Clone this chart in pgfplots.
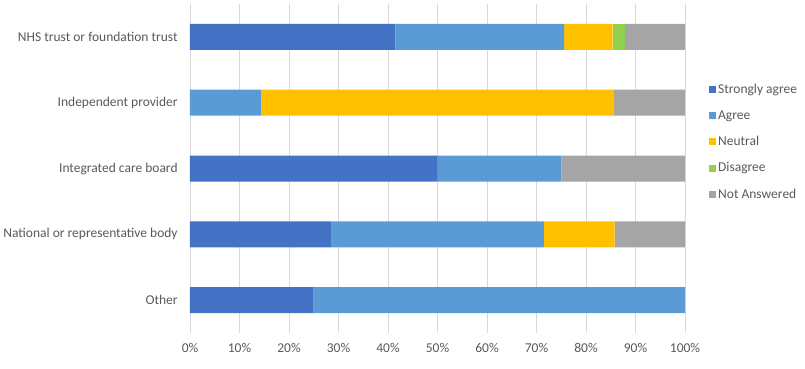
\documentclass[border=0pt]{standalone}
\usepackage{fontspec}
\setmainfont{Carlito}
\usepackage{pgfplots}
\pgfplotsset{compat=1.18}
\definecolor{csa}{HTML}{4472C4}
\definecolor{cag}{HTML}{5B9BD5}
\definecolor{cne}{HTML}{FFC000}
\definecolor{cdi}{HTML}{92D050}
\definecolor{cna}{HTML}{A5A5A5}
\definecolor{txtgray}{HTML}{595959}
\definecolor{gridgray}{HTML}{D9D9D9}
\begin{document}
\fontsize{13.5bp}{15bp}\selectfont
\begin{tikzpicture}
\useasboundingbox (-190bp,-36bp) rectangle (615bp,333bp);
\begin{axis}[
  at={(0,0)}, anchor=south west,
  scale only axis, width=495bp, height=329bp,
  xbar stacked, bar width=26bp,
  xmin=0, xmax=100, ymin=-0.5, ymax=4.5,
  y dir=reverse,
  ytick={0,1,2,3,4},
  yticklabels={NHS trust or foundation trust, Independent provider, Integrated care board, National or representative body, Other},
  xtick={0,10,...,100},
  xticklabel={\pgfmathprintnumber{\tick}\%},
  /pgf/number format/assume math mode=true,
  xmajorgrids, grid style={draw=gridgray, line width=0.9bp},
  axis line style={draw=none},
  major tick length=0,
  tick label style={font=\fontsize{13.5bp}{15bp}\selectfont, text=txtgray},
  yticklabel style={xshift=-7.7bp},
  xticklabel style={yshift=-6bp},
  legend style={at={(1.0424,0.58)}, anchor=west, draw=none, fill=none,
    font=\fontsize{13.5bp}{15bp}\selectfont, text=txtgray, row sep=11bp},
  legend cell align=left,
  legend image code/.code={\fill[#1] (0bp,-3.5bp) rectangle (7bp,3.5bp);},
]
\addplot[fill=csa, draw=none] coordinates {(41.5,0) (0,1) (50,2) (28.6,3) (25,4)};
\addplot[fill=cag, draw=none] coordinates {(34.1,0) (14.3,1) (25,2) (42.9,3) (75,4)};
\addplot[fill=cne, draw=none] coordinates {(9.8,0) (71.4,1) (0,2) (14.3,3) (0,4)};
\addplot[fill=cdi, draw=none] coordinates {(2.4,0) (0,1) (0,2) (0,3) (0,4)};
\addplot[fill=cna, draw=none] coordinates {(12.2,0) (14.3,1) (25,2) (14.2,3) (0,4)};
\legend{Strongly agree, Agree, Neutral, Disagree, Not Answered}
\end{axis}
\end{tikzpicture}
\end{document}
